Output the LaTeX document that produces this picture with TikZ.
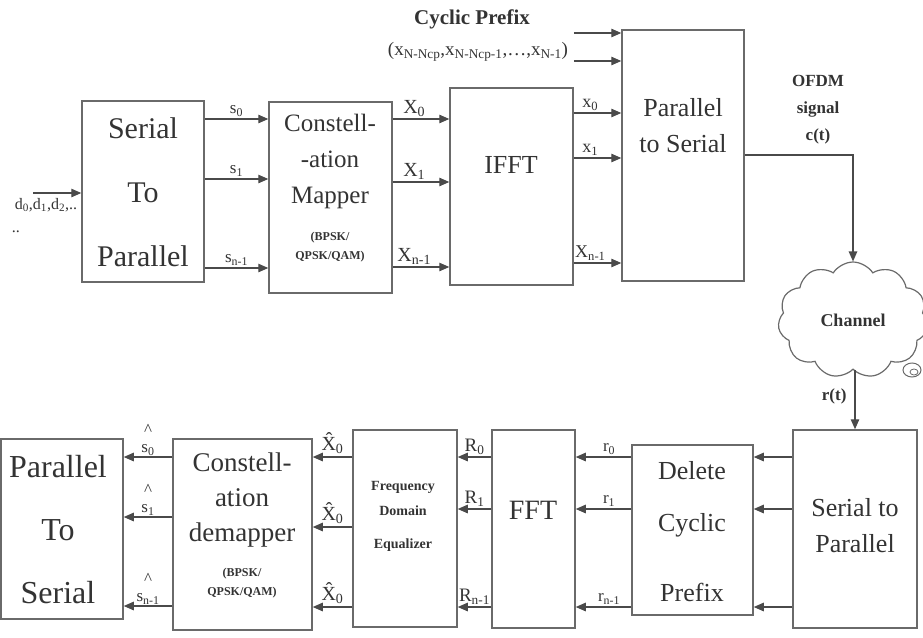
\documentclass[tikz,border=0pt]{standalone}
\usepackage{fontspec}
\setmainfont{Liberation Serif}
\usetikzlibrary{arrows.meta,positioning,calc,shapes.symbols}

\definecolor{ink}{HTML}{333333}
\definecolor{edge}{HTML}{6A6A6A}
\definecolor{wire}{HTML}{4A4A4A}
\newcommand{\fs}[2]{\fontsize{#1}{#2}\selectfont}

\begin{document}
\begin{tikzpicture}[x=1pt, y=-1pt,
  box/.style={draw=edge, line width=1.5pt, inner sep=0pt},
  arr/.style={-{Triangle[length=10pt, width=8.5pt]}, line width=1.2pt, draw=wire},
  big/.style={text=ink, align=center, inner sep=0pt},
  lbl/.style={font=\fs{17}{20}, text=ink, inner sep=0pt},
  tiny/.style={font=\fs{12}{19}\bfseries, text=ink, align=center, inner sep=0pt}
]
  \useasboundingbox (0,0) rectangle (923,637);

  % transmitter chain
  \node[box, minimum width=122pt, minimum height=181pt] (stp) at (143,191.5) {};
  \node[box, minimum width=123pt, minimum height=191pt] (map) at (330.5,197.5) {};
  \node[box, minimum width=123pt, minimum height=197pt] (ifft) at (511.5,186.5) {};
  \node[box, minimum width=122pt, minimum height=251pt] (pts) at (683,155.5) {};

  \node[big, font=\fs{30}{64}] (stp-t) at (143,192) {Serial\\To\\Parallel};
  \node[big, font=\fs{25}{36}] (map-t) at (330,161) {Constell-\\-ation\\Mapper};
  \node[tiny] (map-s) at (330,247) {(BPSK/\\QPSK/QAM)};
  \node[big, font=\fs{26}{30}] (ifft-t) at (511,165) {IFFT};
  \node[big, font=\fs{26}{36}] (pts-t) at (683,126) {Parallel\\to Serial};

  \coordinate (din) at (33,193);
  \draw[arr] (din) -- (stp.west |- din);
  \node[lbl, font=\fs{16}{18}] (dlab) at (46,205) {d\textsubscript{0},d\textsubscript{1},d\textsubscript{2},..};
  \node[lbl, font=\fs{16}{18}] (ddots) at (16,232) {..};

  \foreach \y/\t in {119/0, 179/1, 268/{n-1}}
    \draw[arr] (stp.east |- 0,\y) -- node[lbl, above=2pt] {s\textsubscript{\t}} (map.west |- 0,\y);
  \foreach \y/\t in {119/0, 182/1, 267/{n-1}}
    \draw[arr] (map.east |- 0,\y) -- node[lbl, font=\fs{20}{22}, above=2pt, pos=0.38] {X\textsubscript{\t}} (ifft.west |- 0,\y);
  \foreach \y/\t in {113/x\textsubscript{0}, 158/x\textsubscript{1}, 263/X\textsubscript{n-1}}
    \draw[arr] (ifft.east |- 0,\y) -- node[lbl, font=\fs{18}{20}, above=2pt, pos=0.35] {\t} (pts.west |- 0,\y);

  % cyclic prefix
  \foreach \y in {33, 61}
    \draw[arr] (ifft.east |- 0,\y) -- (pts.west |- 0,\y);
  \node[lbl, font=\fs{21}{22}\bfseries] (cp) at (472,19) {Cyclic Prefix};
  \node[lbl, font=\fs{19}{20}] (cpx) at (478,52)
    {(x\textsubscript{N-Ncp},x\textsubscript{N-Ncp-1},\dots,x\textsubscript{N-1})};

  % channel
  \node[cloud, draw=edge, line width=1.2pt, cloud puffs=11, cloud puff arc=115,
    aspect=1.3, minimum width=150pt, minimum height=116pt, inner sep=0pt,
    font=\fs{18}{20}\bfseries, text=ink] (chan) at (853,320) {Channel};
  \draw[edge, line width=1pt] (912,370) ellipse (9pt and 7pt);
  \draw[edge, line width=0.8pt] (914,372) ellipse (4pt and 3pt);
  \node[big, font=\fs{17}{27}\bfseries] (ofdm) at (818,110) {OFDM\\signal\\c(t)};
  \draw[arr] (pts.east |- 0,155) -| (chan.north);

  % receiver chain
  \node[box, minimum width=124pt, minimum height=198pt] (rstp) at (855,529) {};
  \node[box, minimum width=121pt, minimum height=170pt] (dcp) at (692.5,530) {};
  \node[box, minimum width=83pt, minimum height=198pt] (fft) at (533.5,529) {};
  \node[box, minimum width=104pt, minimum height=197pt] (fde) at (405,528.5) {};
  \node[box, minimum width=139pt, minimum height=191pt] (dem) at (242.5,534.5) {};
  \node[box, minimum width=122pt, minimum height=180pt] (rpts) at (62,529) {};

  \node[big, font=\fs{26}{36}] (rstp-t) at (855,526) {Serial to\\Parallel};
  \node[big, font=\fs{26}{52}] (dcp-t) at (692,532) {Delete\\Cyclic\\[18pt]Prefix};
  \node[big, font=\fs{28}{30}] (fft-t) at (533,510) {FFT};
  \node[big, font=\fs{14}{25}\bfseries] (fde-t) at (403,516) {Frequency\\Domain\\[8pt]Equalizer};
  \node[big, font=\fs{27}{35}] (dem-t) at (242,500) {Constell-\\ation\\demapper};
  \node[tiny] (dem-s) at (242,583) {(BPSK/\\QPSK/QAM)};
  \node[big, font=\fs{32}{63}] (rpts-t) at (58,530) {Parallel\\To\\Serial};

  \draw[arr] (chan.south -| rstp.north) -- node[lbl, font=\fs{17}{20}\bfseries, left=8pt, pos=0.45] {r(t)} (rstp.north);

  \foreach \y in {457, 509, 607}
    \draw[arr] (rstp.west |- 0,\y) -- (dcp.east |- 0,\y);
  \foreach \y/\t in {457/0, 509/1, 607/{n-1}}
    \draw[arr] (dcp.west |- 0,\y) -- node[lbl, above=2pt, pos=0.4] {r\textsubscript{\t}} (fft.east |- 0,\y);
  \foreach \y/\t in {457/0, 509/1, 607/{n-1}}
    \draw[arr] (fft.west |- 0,\y) -- node[lbl, font=\fs{19}{20}, above=2pt] {R\textsubscript{\t}} (fde.east |- 0,\y);
  \foreach \y in {457, 527, 607}
    \draw[arr] (fde.west |- 0,\y) -- node[lbl, font=\fs{20}{22}, above=3pt] {\^{X}\textsubscript{0}} (dem.east |- 0,\y);
  \foreach \y/\t in {457/0, 517/1, 606/{n-1}}
    \draw[arr] (dem.west |- 0,\y) -- node[lbl, align=center, font=\fs{17}{17}, above=1pt] {\^{}\\s\textsubscript{\t}} (rpts.east |- 0,\y);
\end{tikzpicture}
\end{document}
